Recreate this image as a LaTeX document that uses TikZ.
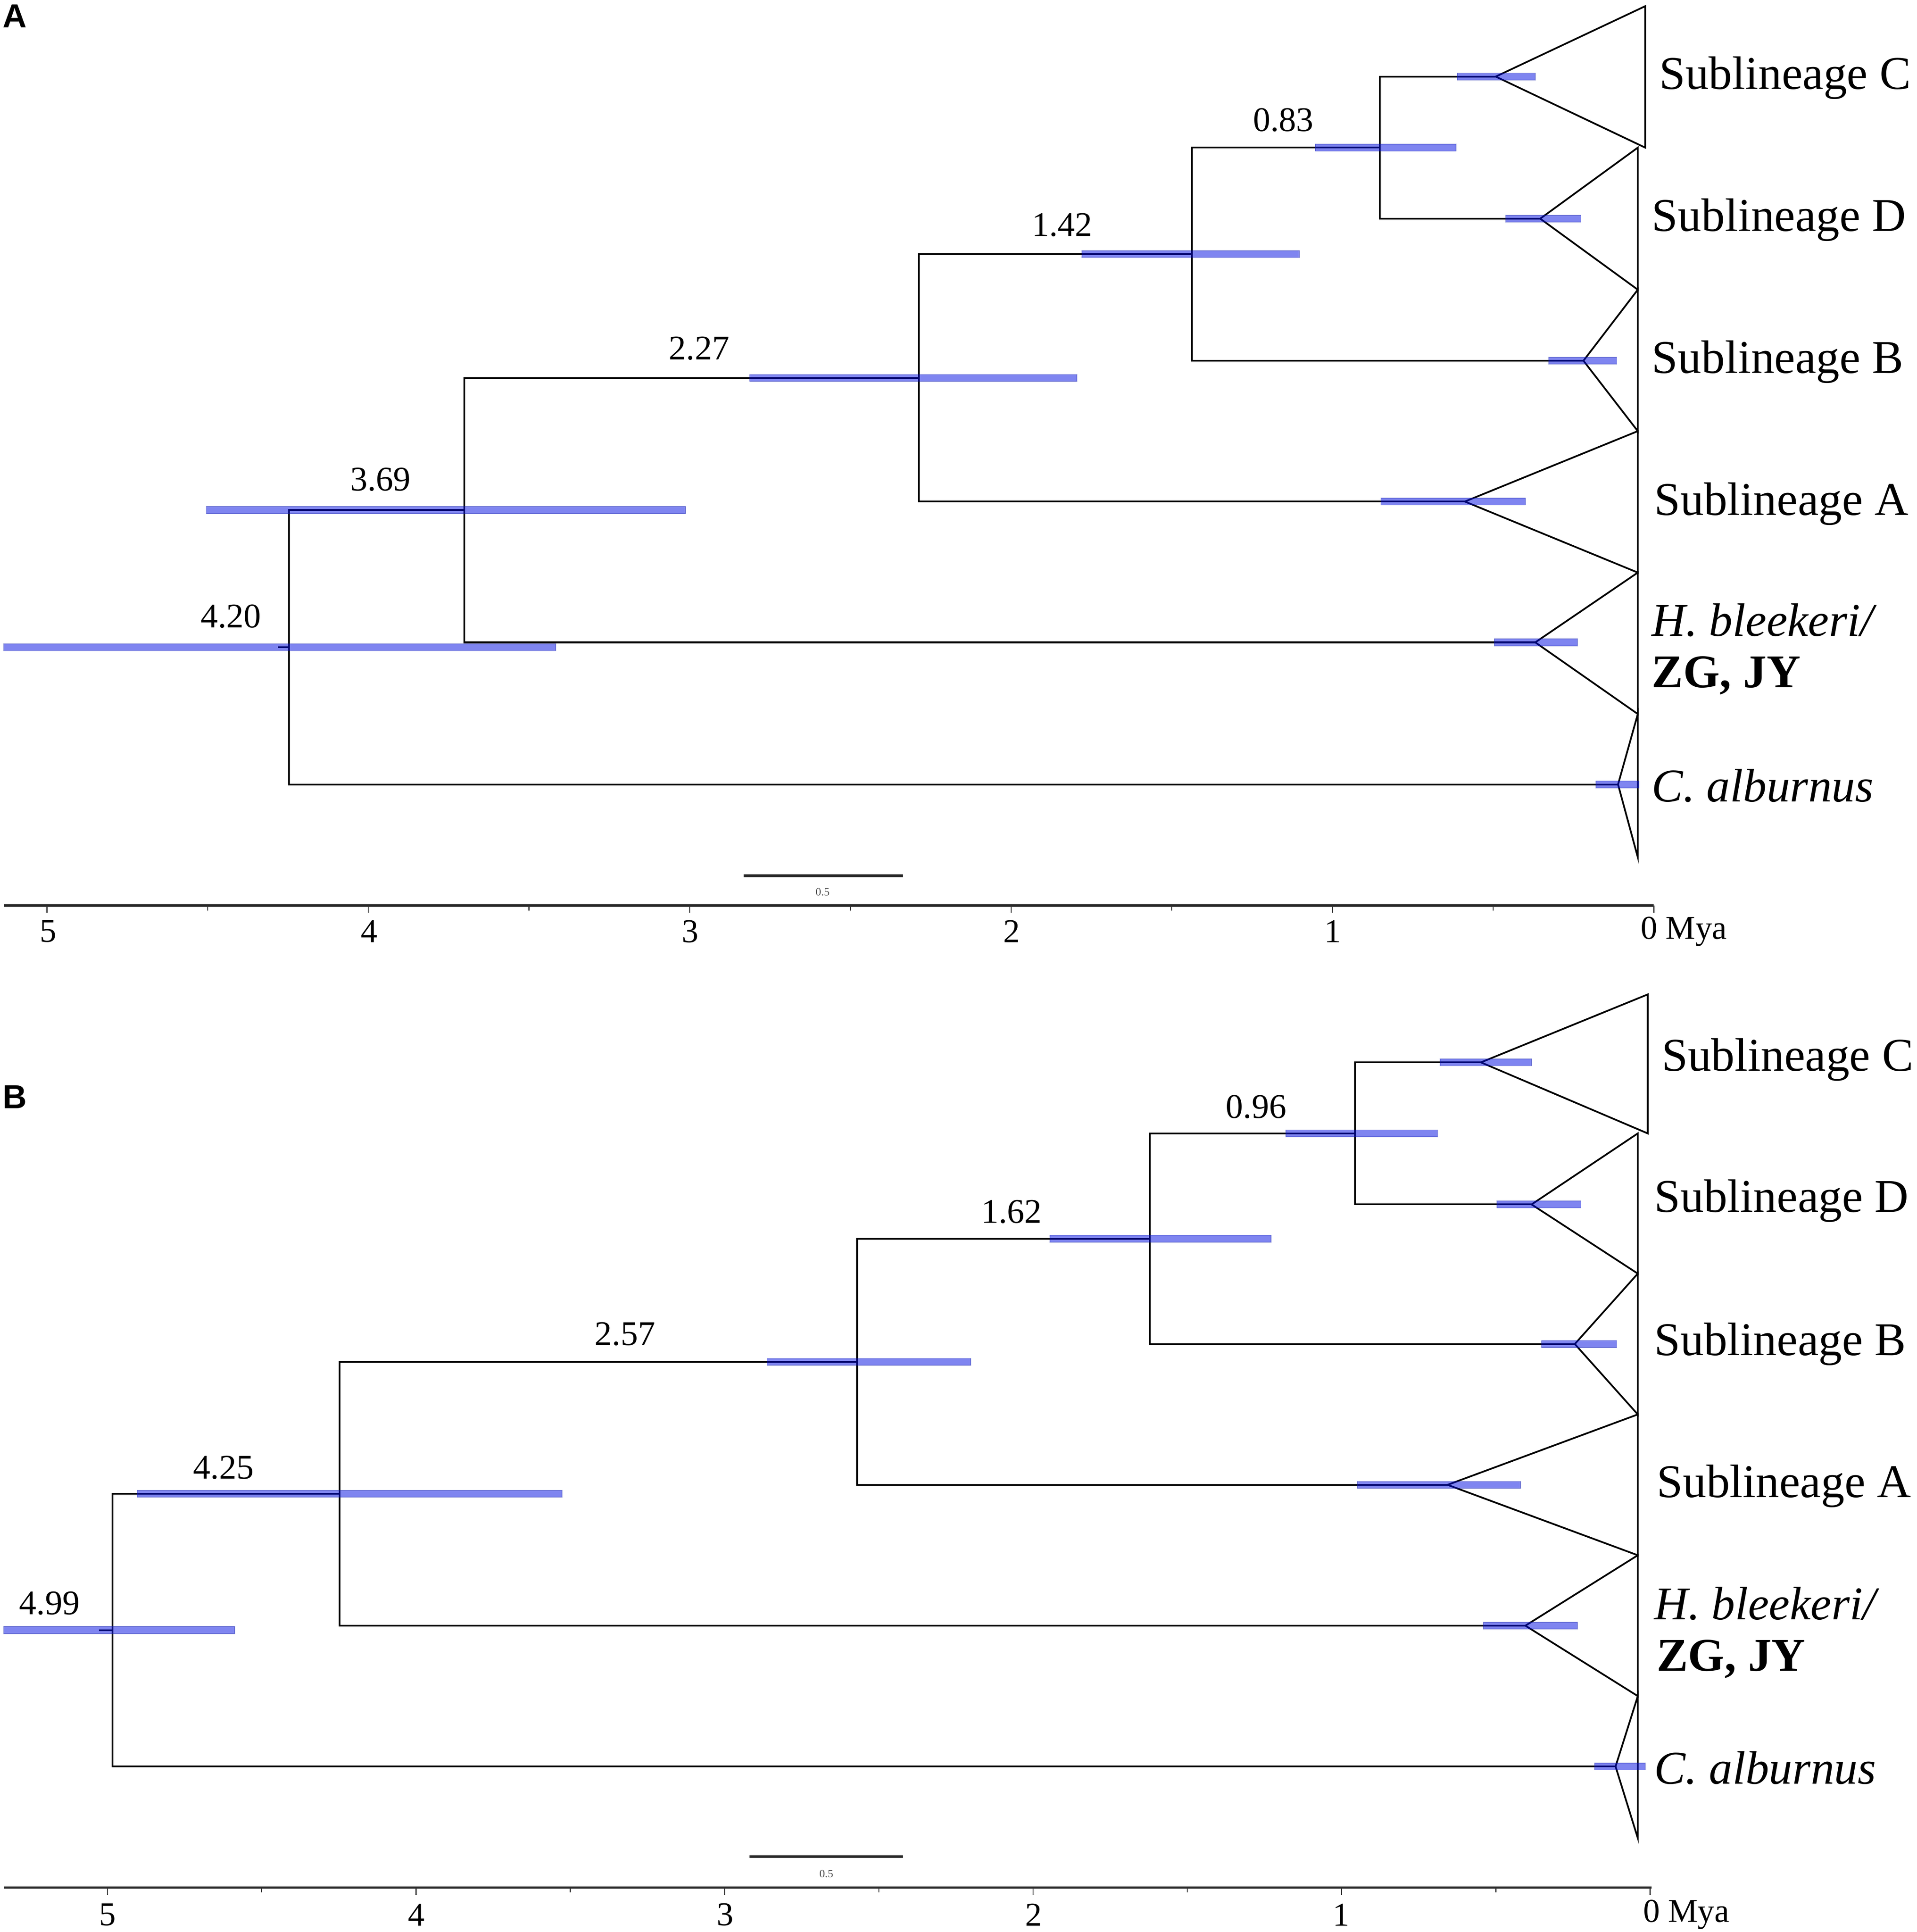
\documentclass[tikz,border=0pt]{standalone}
\usepackage{fontspec}
\setmainfont{Liberation Serif}
\newfontfamily\panelfont{Liberation Sans}
\definecolor{hpdblue}{RGB}{0,12,226}
\definecolor{hpdedge}{RGB}{20,30,170}
\newcommand{\hpdbar}[3]{\path[hpd] (#1,#3-2.8) rectangle (#2,#3+2.8);}
\begin{document}
\begin{tikzpicture}[x=0.5pt,y=-0.5pt,
  branch/.style={line width=0.7pt,black,line join=miter},
  hpd/.style={fill=hpdblue,fill opacity=0.5,draw=hpdedge,draw opacity=0.45,line width=0.3pt},
  axisline/.style={line width=1pt,black!85},
  tickmark/.style={line width=0.4pt,black!80},
  scalebar/.style={line width=1.1pt,black!85},
  taxon/.style={font=\fontsize{19}{21}\selectfont,anchor=west,inner sep=0pt},
  agelab/.style={font=\fontsize{14}{16}\selectfont,inner sep=0pt},
  axlab/.style={font=\fontsize{13.5}{15}\selectfont,inner sep=0pt},
  tinylab/.style={font=\fontsize{4.5}{5}\selectfont,text=black!70,inner sep=0pt},
  panellab/.style={font=\panelfont\bfseries\fontsize{13.5}{15}\selectfont,inner sep=0pt}]
\useasboundingbox (0,0) rectangle (1552,1564);

% ================= PANEL A =================
\node[panellab] (labA) at (12,13) {A};
\coordinate (aRs) at (225,524);
\coordinate (aR) at (234,524);
\coordinate (a369) at (376,412.9);
\coordinate (a227) at (744,305.9);
\coordinate (a142) at (965,205.75);
\coordinate (a083) at (1117,119.5);
\coordinate (aC) at (1211,62);
\coordinate (aD) at (1247,177);
\coordinate (aB) at (1282,292);
\coordinate (aA) at (1186,406);
\coordinate (aH) at (1243,520);
\coordinate (aCa) at (1310,635);

\draw[branch] (aRs) -- (aR);
\draw[branch] (a369) -- (a369 -| aR) -- (aCa -| aR) -- (aCa);
\draw[branch] (a227) -- (a227 -| a369) -- (aH -| a369) -- (aH);
\draw[branch] (a142) -- (a142 -| a227) -- (aA -| a227) -- (aA);
\draw[branch] (a083) -- (a083 -| a142) -- (aB -| a142) -- (aB);
\draw[branch] (aC) -- (aC -| a083) -- (aD -| a083) -- (aD);

\draw[branch] (aC) -- (1332,5) -- (1332,119.5) -- cycle;
\draw[branch] (aD) -- (1326,119.5) -- (1326,234.5) -- cycle;
\draw[branch] (aB) -- (1326,234.5) -- (1326,349) -- cycle;
\draw[branch] (aA) -- (1326,349) -- (1326,463.5) -- cycle;
\draw[branch] (aH) -- (1326,463.5) -- (1326,578) -- cycle;
\draw[branch] (aCa) -- (1326,578) -- (1326,694) -- cycle;

\hpdbar{3}{450}{524}
\hpdbar{167}{555}{412.9}
\hpdbar{607}{872}{305.9}
\hpdbar{876}{1052}{205.75}
\hpdbar{1065}{1179}{119.5}
\hpdbar{1180}{1243}{62}
\hpdbar{1219}{1280}{177}
\hpdbar{1254}{1309}{292}
\hpdbar{1118}{1235}{406}
\hpdbar{1210}{1277}{520}
\hpdbar{1292}{1327}{635}

\node[agelab] (lA420) at (187,499) {4.20};
\node[agelab] (lA369) at (308,388) {3.69};
\node[agelab] (lA227) at (566,282) {2.27};
\node[agelab] (lA142) at (860,182) {1.42};
\node[agelab] (lA083) at (1039,97) {0.83};

\node[taxon] (tAC) at (1343,63) {Sublineage C};
\node[taxon] (tAD) at (1337,178) {Sublineage D};
\node[taxon] (tAB) at (1337,293) {Sublineage B};
\node[taxon] (tAA) at (1339,408) {Sublineage A};
\node[taxon] (tAH) at (1337,502) {\itshape H. bleekeri/};
\node[taxon] (tAZ) at (1337,547) {\bfseries ZG, JY};
\node[taxon] (tACa) at (1337,636) {\itshape C. alburnus};

\draw[scalebar] (602,709) -- (731,709);
\node[tinylab] (sA) at (666,722) {0.5};
\draw[axisline] (3,733) -- (1339,733);
\foreach \k in {0,...,10} {\draw[tickmark] ({38+130.1*\k},733) -- ({38+130.1*\k},{\k==int(\k/2)*2 ? 739 : 737});}
\node[axlab] (xA5) at (39,754) {5};
\node[axlab] (xA4) at (299,754) {4};
\node[axlab] (xA3) at (559,754) {3};
\node[axlab] (xA2) at (819,754) {2};
\node[axlab] (xA1) at (1079,754) {1};
\node[axlab,anchor=west] (xA0) at (1328,754) {0 Mya};

% ================= PANEL B =================
\node[panellab] (labB) at (12,888) {B};
\coordinate (bRs) at (80,1319.6);
\coordinate (bR) at (91,1319.6);
\coordinate (b425) at (275,1209.2);
\coordinate (b257) at (694,1102.4);
\coordinate (b162) at (931,1002.75);
\coordinate (b096) at (1097,917.5);
\coordinate (bC) at (1199,860);
\coordinate (bD) at (1240,975);
\coordinate (bB) at (1275,1088);
\coordinate (bA) at (1172,1202);
\coordinate (bH) at (1235,1316);
\coordinate (bCa) at (1308,1430);

\draw[branch] (bRs) -- (bR);
\draw[branch] (b425) -- (b425 -| bR) -- (bCa -| bR) -- (bCa);
\draw[branch] (b257) -- (b257 -| b425) -- (bH -| b425) -- (bH);
\draw[branch] (b162) -- (b162 -| b257) -- (bA -| b257) -- (bA);
\draw[branch] (b096) -- (b096 -| b162) -- (bB -| b162) -- (bB);
\draw[branch] (bC) -- (bC -| b096) -- (bD -| b096) -- (bD);

\draw[branch] (bC) -- (1334,805) -- (1334,917.5) -- cycle;
\draw[branch] (bD) -- (1326,917.5) -- (1326,1031) -- cycle;
\draw[branch] (bB) -- (1326,1031) -- (1326,1145) -- cycle;
\draw[branch] (bA) -- (1326,1145) -- (1326,1259) -- cycle;
\draw[branch] (bH) -- (1326,1259) -- (1326,1373) -- cycle;
\draw[branch] (bCa) -- (1326,1373) -- (1326,1488) -- cycle;

\hpdbar{3}{190}{1319.6}
\hpdbar{111}{455}{1209.2}
\hpdbar{621}{786}{1102.4}
\hpdbar{850}{1029}{1002.75}
\hpdbar{1041}{1164}{917.5}
\hpdbar{1166}{1240}{860}
\hpdbar{1212}{1280}{975}
\hpdbar{1248}{1309}{1088}
\hpdbar{1099}{1231}{1202}
\hpdbar{1201}{1277}{1316}
\hpdbar{1291}{1332}{1430}

\node[agelab] (lB499) at (40,1298) {4.99};
\node[agelab] (lB425) at (181,1188) {4.25};
\node[agelab] (lB257) at (506,1080) {2.57};
\node[agelab] (lB162) at (819,981) {1.62};
\node[agelab] (lB096) at (1017,896) {0.96};

\node[taxon] (tBC) at (1345,858) {Sublineage C};
\node[taxon] (tBD) at (1339,972) {Sublineage D};
\node[taxon] (tBB) at (1339,1088) {Sublineage B};
\node[taxon] (tBA) at (1341,1203) {Sublineage A};
\node[taxon] (tBH) at (1339,1298) {\itshape H. bleekeri/};
\node[taxon] (tBZ) at (1341,1343) {\bfseries ZG, JY};
\node[taxon] (tBCa) at (1339,1431) {\itshape C. alburnus};

\draw[scalebar] (607,1503) -- (731,1503);
\node[tinylab] (sB) at (669,1517) {0.5};
\draw[axisline] (3,1528) -- (1337,1528);
\foreach \k in {0,...,10} {\draw[tickmark] ({87+124.9*\k},1528) -- ({87+124.9*\k},{\k==int(\k/2)*2 ? 1534 : 1532});}
\node[axlab] (xB5) at (87,1550) {5};
\node[axlab] (xB4) at (337,1550) {4};
\node[axlab] (xB3) at (587,1550) {3};
\node[axlab] (xB2) at (837,1550) {2};
\node[axlab] (xB1) at (1086,1550) {1};
\node[axlab,anchor=west] (xB0) at (1330,1550) {0 Mya};
\end{tikzpicture}
\end{document}
